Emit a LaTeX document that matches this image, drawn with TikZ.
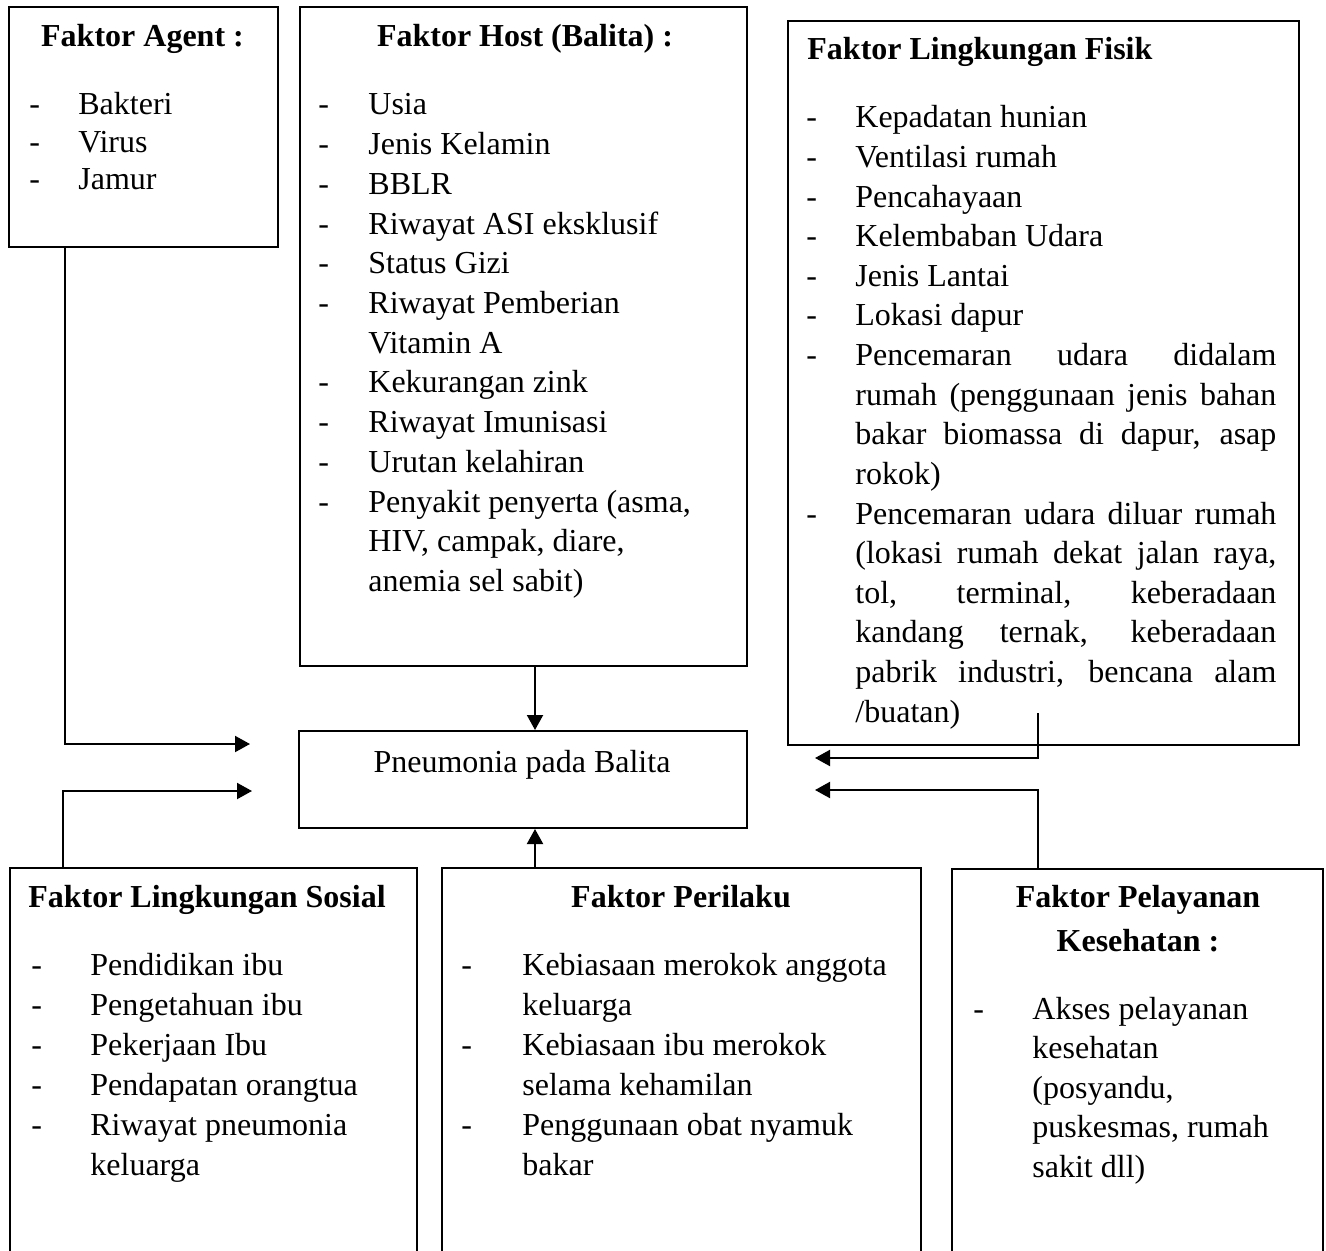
\documentclass[tikz,border=0pt]{standalone}
\usepackage{fontspec}
\setmainfont{Liberation Serif}
\usetikzlibrary{arrows.meta}
\tikzset{
  box/.style={draw=black, line width=1pt, rectangle, anchor=north west, inner sep=0pt},
  txt/.style={anchor=base west, inner sep=0pt, font=\fontsize{16pt}{20pt}\selectfont, text=black},
  ttl/.style={anchor=base, inner sep=0pt, font=\fontsize{16pt}{20pt}\selectfont\bfseries, text=black},
  ttlw/.style={anchor=base west, inner sep=0pt, font=\fontsize{16pt}{20pt}\selectfont\bfseries, text=black},
  arr/.style={draw=black, line width=1pt, -{Triangle[length=7.5pt,width=8pt]}},
}
\newcommand\jl[1]{\makebox[210.5pt][s]{#1}}
\begin{document}
\begin{tikzpicture}[x=0.5pt,y=-0.5pt]
\useasboundingbox (0,0) rectangle (1326,1251);
\clip (0,0) rectangle (1326,1251);
% boxes
\node[box, minimum width=134.5pt, minimum height=120pt] (agent) at (8,6) {};
\node[box, minimum width=223.5pt, minimum height=329.5pt] (host) at (299,6) {};
\node[box, minimum width=255.5pt, minimum height=362pt] (fisik) at (787,20) {};
\node[box, minimum width=224pt, minimum height=48.5pt] (pneu) at (298,730) {};
\node[box, minimum width=203.5pt, minimum height=205pt] (sosial) at (9,867) {};
\node[box, minimum width=239.5pt, minimum height=205pt] (perilaku) at (441,867) {};
\node[box, minimum width=185.5pt, minimum height=205pt] (pelayanan) at (951,868) {};

% Agent
\node[ttl] (agentT) at (142.5,47) {Faktor Agent :};
\node[txt] (ad1) at (29,115) {-}; \node[txt] (a1) at (78,115) {Bakteri};
\node[txt] (ad2) at (29,152.5) {-}; \node[txt] (a2) at (78,152.5) {Virus};
\node[txt] (ad3) at (29,190) {-}; \node[txt] (a3) at (78,190) {Jamur};

% Host
\node[ttl] (hostT) at (525,47) {Faktor Host (Balita) :};
\node[txt] (hd1) at (318,115) {-}; \node[txt] (h1) at (368,115) {Usia};
\node[txt] (hd2) at (318,154.7) {-}; \node[txt] (h2) at (368,154.7) {Jenis Kelamin};
\node[txt] (hd3) at (318,194.4) {-}; \node[txt] (h3) at (368,194.4) {BBLR};
\node[txt] (hd4) at (318,234.1) {-}; \node[txt] (h4) at (368,234.1) {Riwayat ASI eksklusif};
\node[txt] (hd5) at (318,273.8) {-}; \node[txt] (h5) at (368,273.8) {Status Gizi};
\node[txt] (hd6) at (318,313.5) {-}; \node[txt] (h6) at (368,313.5) {Riwayat Pemberian};
\node[txt] (h7) at (368,353.2) {Vitamin A};
\node[txt] (hd8) at (318,392.9) {-}; \node[txt] (h8) at (368,392.9) {Kekurangan zink};
\node[txt] (hd9) at (318,432.6) {-}; \node[txt] (h9) at (368,432.6) {Riwayat Imunisasi};
\node[txt] (hd10) at (318,472.3) {-}; \node[txt] (h10) at (368,472.3) {Urutan kelahiran};
\node[txt] (hd11) at (318,512) {-}; \node[txt] (h11) at (368,512) {Penyakit penyerta (asma,};
\node[txt] (h12) at (368,551.7) {HIV, campak, diare,};
\node[txt] (h13) at (368,591.4) {anemia sel sabit)};

% Fisik
\node[ttlw] (fisikT) at (807,60) {Faktor Lingkungan Fisik};
\node[txt] (fd1) at (806,128) {-}; \node[txt] (f1) at (855,128) {Kepadatan hunian};
\node[txt] (fd2) at (806,167.6) {-}; \node[txt] (f2) at (855,167.6) {Ventilasi rumah};
\node[txt] (fd3) at (806,207.2) {-}; \node[txt] (f3) at (855,207.2) {Pencahayaan};
\node[txt] (fd4) at (806,246.8) {-}; \node[txt] (f4) at (855,246.8) {Kelembaban Udara};
\node[txt] (fd5) at (806,286.4) {-}; \node[txt] (f5) at (855,286.4) {Jenis Lantai};
\node[txt] (fd6) at (806,326) {-}; \node[txt] (f6) at (855,326) {Lokasi dapur};
\node[txt] (fd7) at (806,365.6) {-}; \node[txt] (f7) at (855,365.6) {\jl{Pencemaran udara didalam}};
\node[txt] (f8) at (855,405.2) {\jl{rumah (penggunaan jenis bahan}};
\node[txt] (f9) at (855,444.8) {\jl{bakar biomassa di dapur, asap}};
\node[txt] (f10) at (855,484.4) {rokok)};
\node[txt] (fd11) at (806,524) {-}; \node[txt] (f11) at (855,524) {\jl{Pencemaran udara diluar rumah}};
\node[txt] (f12) at (855,563.6) {\jl{(lokasi rumah dekat jalan raya,}};
\node[txt] (f13) at (855,603.2) {\jl{tol, terminal, keberadaan}};
\node[txt] (f14) at (855,642.8) {\jl{kandang ternak, keberadaan}};
\node[txt] (f15) at (855,682.4) {\jl{pabrik industri, bencana alam}};
\node[txt] (f16) at (855,722) {/buatan)};

% Pneumonia
\node[anchor=base, inner sep=0pt, font=\fontsize{16pt}{20pt}\selectfont] (pneuT) at (522,772) {Pneumonia pada Balita};

% Sosial
\node[ttl] (sosialT) at (207,907) {Faktor Lingkungan Sosial};
\node[txt] (sd1) at (31,975) {-}; \node[txt] (s1) at (90,975) {Pendidikan ibu};
\node[txt] (sd2) at (31,1015) {-}; \node[txt] (s2) at (90,1015) {Pengetahuan ibu};
\node[txt] (sd3) at (31,1055) {-}; \node[txt] (s3) at (90,1055) {Pekerjaan Ibu};
\node[txt] (sd4) at (31,1095) {-}; \node[txt] (s4) at (90,1095) {Pendapatan orangtua};
\node[txt] (sd5) at (31,1135) {-}; \node[txt] (s5) at (90,1135) {Riwayat pneumonia};
\node[txt] (s6) at (90,1175) {keluarga};

% Perilaku
\node[ttl] (perilakuT) at (681,907) {Faktor Perilaku};
\node[txt] (pd1) at (461,975) {-}; \node[txt] (p1) at (522,975) {Kebiasaan merokok anggota};
\node[txt] (p2) at (522,1015) {keluarga};
\node[txt] (pd3) at (461,1055) {-}; \node[txt] (p3) at (522,1055) {Kebiasaan ibu merokok};
\node[txt] (p4) at (522,1095) {selama kehamilan};
\node[txt] (pd5) at (461,1135) {-}; \node[txt] (p5) at (522,1135) {Penggunaan obat nyamuk};
\node[txt] (p6) at (522,1175) {bakar};

% Pelayanan
\node[ttl] (pelT1) at (1138,907) {Faktor Pelayanan};
\node[ttl] (pelT2) at (1138,951) {Kesehatan :};
\node[txt] (ld1) at (973,1019) {-}; \node[txt] (l1) at (1032,1019) {Akses pelayanan};
\node[txt] (l2) at (1032,1058.5) {kesehatan};
\node[txt] (l3) at (1032,1098) {(posyandu,};
\node[txt] (l4) at (1032,1137.5) {puskesmas, rumah};
\node[txt] (l5) at (1032,1177) {sakit dll)};

% connector coordinates
\coordinate (aX) at (65,744);
\coordinate (aEnd) at (250,744);
\coordinate (sX) at (63,791);
\coordinate (sEnd) at (252,791);
\coordinate (mX) at (535,700);
\coordinate (fStart) at (1038,713);
\coordinate (fEnd) at (815,758);
\coordinate (pX) at (1038,790);
\coordinate (pEnd) at (815,790);

% connectors
\draw[arr] (agent.south -| aX) |- (aEnd);
\draw[arr] (sosial.north -| sX) |- (sEnd);
\draw[arr] (host.south -| mX) -- (pneu.north -| mX);
\draw[arr] (perilaku.north -| mX) -- (pneu.south -| mX);
\draw[arr] (fStart) |- (fEnd);
\draw[arr] (pelayanan.north -| pX) |- (pEnd);
\end{tikzpicture}
\end{document}
